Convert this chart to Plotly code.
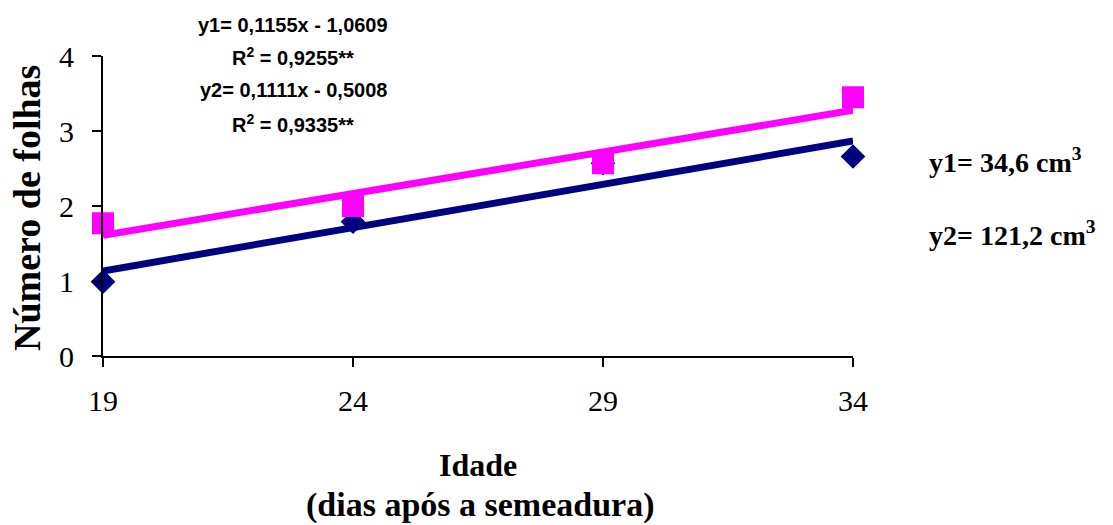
import plotly.graph_objects as go

days = [19, 24, 29, 34]
y1_vals = [0.99, 1.79, 2.57, 2.66]
y2_vals = [1.77, 2.00, 2.57, 3.45]
y1_coef = (0.1155, -1.0609)
y2_coef = (0.1111, -0.5008)
eq_texts = ["y1= 0,1155x - 1,0609", "R<sup>2</sup> = 0,9255**",
            "y2= 0,1111x - 0,5008", "R<sup>2</sup> = 0,9335**"]
vol_texts = ["y1= 34,6 cm<sup>3</sup>", "y2= 121,2 cm<sup>3</sup>"]

NAVY = "#000080"
MAG = "#FF00FF"

W, H = 1113, 525
L, R, T, B = 103, 260, 56, 169
pw, ph = W - L - R, H - T - B


def px(x):
    return (x - L) / pw


def py(y):
    return (H - B - y) / ph


fig = go.Figure()
fig.add_trace(go.Scatter(x=days, y=y1_vals, mode="markers",
                         marker=dict(symbol="diamond", size=19, color=NAVY), showlegend=False))
fig.add_trace(go.Scatter(x=days, y=y2_vals, mode="markers",
                         marker=dict(symbol="square", size=22, color=MAG), showlegend=False))
xe = [days[0], days[-1]]
fig.add_trace(go.Scatter(x=xe, y=[y1_coef[0] * v + y1_coef[1] for v in xe], mode="lines",
                         line=dict(color=NAVY, width=7), showlegend=False))
fig.add_trace(go.Scatter(x=xe, y=[y2_coef[0] * v + y2_coef[1] for v in xe], mode="lines",
                         line=dict(color=MAG, width=7), showlegend=False))

serif = "Liberation Serif"
sans = "Liberation Sans"

ann = []
for t, yy in zip(eq_texts, [25, 57, 90, 123]):
    ann.append(dict(x=px(293), y=py(yy), xref="paper", yref="paper", text="<b>" + t + "</b>",
                    showarrow=False, font=dict(family=sans, size=20, color="black"),
                    xanchor="center", yanchor="middle"))
for t, yy in zip(vol_texts, [160, 233]):
    ann.append(dict(x=px(927), y=py(yy), xref="paper", yref="paper", text="<b>" + t + "</b>",
                    showarrow=False, font=dict(family=serif, size=28, color="black"),
                    xanchor="left", yanchor="middle"))
ann.append(dict(x=px(478), y=py(465), xref="paper", yref="paper", text="<b>Idade</b>", showarrow=False,
                font=dict(family=serif, size=32, color="black"), xanchor="center", yanchor="middle"))
ann.append(dict(x=px(480), y=py(505), xref="paper", yref="paper", text="<b>(dias após a semeadura)</b>",
                showarrow=False, font=dict(family=serif, size=34, color="black"),
                xanchor="center", yanchor="middle"))
ann.append(dict(x=px(27), y=py(208), xref="paper", yref="paper", text="<b>Número de folhas</b>",
                showarrow=False, textangle=-90, font=dict(family=serif, size=38, color="black"),
                xanchor="center", yanchor="middle"))

fig.update_layout(
    width=W, height=H,
    margin=dict(l=L, r=R, t=T, b=B),
    plot_bgcolor="white", paper_bgcolor="white",
    annotations=ann,
    xaxis=dict(range=[19, 34], tickvals=days, ticktext=[str(d) for d in days],
               showgrid=False, zeroline=False, showline=True, linecolor="black", linewidth=2,
               ticks="outside", ticklen=9, tickwidth=2, tickcolor="black", ticklabelstandoff=8,
               tickfont=dict(family=serif, size=30, color="black")),
    yaxis=dict(range=[0, 4], tickvals=[0, 1, 2, 3, 4],
               showgrid=False, zeroline=False, showline=True, linecolor="black", linewidth=2,
               ticks="outside", ticklen=9, tickwidth=2, tickcolor="black", ticklabelstandoff=12,
               tickfont=dict(family=serif, size=30, color="black")),
)
fig.update_traces(cliponaxis=False)

fig.write_html("out.html")
